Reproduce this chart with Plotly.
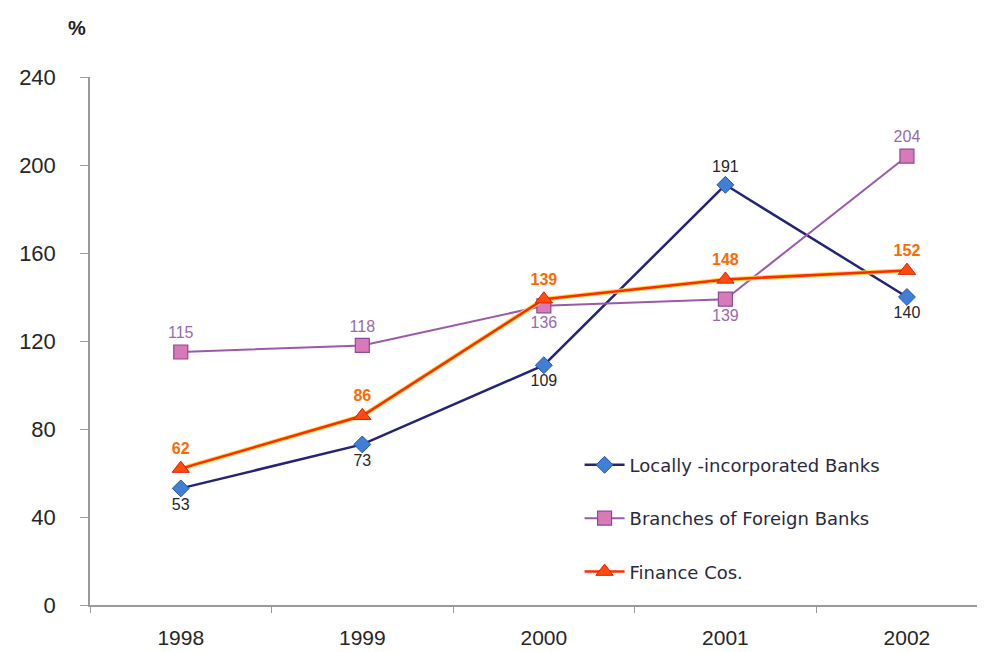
import plotly.graph_objects as go

# data
years = ["1998", "1999", "2000", "2001", "2002"]
local_banks = [53, 73, 109, 191, 140]
foreign_banks = [115, 118, 136, 139, 204]
finance_cos = [62, 86, 139, 148, 152]
y_ticks = [0, 40, 80, 120, 160, 200, 240]

FONT = "Liberation Sans, Arial, sans-serif"

fig = go.Figure()

# Locally-incorporated banks
fig.add_trace(go.Scatter(
    x=years, y=local_banks, name="Locally -incorporated Banks",
    legendgroup="a",
    mode="lines+markers+text",
    line=dict(color="#23237a", width=2.5),
    marker=dict(symbol="diamond", size=13, color="#3f7fd6",
                line=dict(color="#2a50a8", width=1)),
    text=[str(v) for v in local_banks],
    textposition=["bottom center", "bottom center", "bottom center",
                  "top center", "bottom center"],
    textfont=dict(family=FONT, size=16, color="#262626"),
))

# Branches of foreign banks
fig.add_trace(go.Scatter(
    x=years, y=foreign_banks, name="Branches of Foreign Banks",
    legendgroup="b",
    mode="lines+markers+text",
    line=dict(color="#9a5aa8", width=2),
    marker=dict(symbol="square", size=14, color="#d87ab8",
                line=dict(color="#8a4a98", width=1.2)),
    text=[str(v) for v in foreign_banks],
    textposition=["top center", "top center", "bottom center",
                  "bottom center", "top center"],
    textfont=dict(family=FONT, size=16, color="#9a6aa8"),
))

# yellow edge under the finance line
fig.add_trace(go.Scatter(
    x=years, y=finance_cos, mode="lines", showlegend=False,
    hoverinfo="skip",
    line=dict(color="#ffd84a", width=4.5),
))

# Finance companies
fig.add_trace(go.Scatter(
    x=years, y=finance_cos, name="Finance Cos.",
    legendgroup="c",
    mode="lines+markers+text",
    line=dict(color="#ff2a00", width=2.5),
    marker=dict(symbol="triangle-up", size=15, color="#ff4a10",
                line=dict(color="#e02000", width=1)),
    text=[str(v) for v in finance_cos],
    textposition="top center",
    textfont=dict(family=FONT, size=16, color="#ff6a00", weight="bold"),
))

# page body has an 8px margin, so the figure is sized/offset to compensate
fig.update_layout(
    width=977, height=644,
    margin=dict(l=82, r=0, t=69, b=47),
    paper_bgcolor="white", plot_bgcolor="white",
    font=dict(family=FONT, color="#222222"),
    legend=dict(
        x=0.547, y=0.30, xanchor="left", yanchor="top",
        bgcolor="rgba(0,0,0,0)",
        font=dict(family="DejaVu Sans, sans-serif", size=18, color="#2a2a40"),
        tracegroupgap=27,
        itemwidth=40,
    ),
    annotations=[dict(
        text="<b>%</b>", xref="paper", yref="paper",
        x=-0.0145, y=1.093, xanchor="center", yanchor="middle",
        showarrow=False, font=dict(family=FONT, size=20, color="#222222"),
    )],
)

fig.update_xaxes(
    type="category", range=[-0.5, 4.43],
    showline=True, linecolor="#9a9a9a", linewidth=1.5,
    ticks="outside", tickson="boundaries", ticklen=6, tickcolor="#9a9a9a",
    showgrid=False, zeroline=False,
    tickfont=dict(family=FONT, size=21, color="#262626"),
    ticklabelstandoff=13,
)

fig.update_yaxes(
    range=[0, 240], tickvals=y_ticks,
    showline=True, linecolor="#9a9a9a", linewidth=1.5,
    ticks="outside", ticklen=8, tickcolor="#9a9a9a",
    showgrid=False, zeroline=False,
    tickfont=dict(family=FONT, size=22, color="#262626"),
    ticklabelstandoff=20,
)

fig.write_html("out.html")
